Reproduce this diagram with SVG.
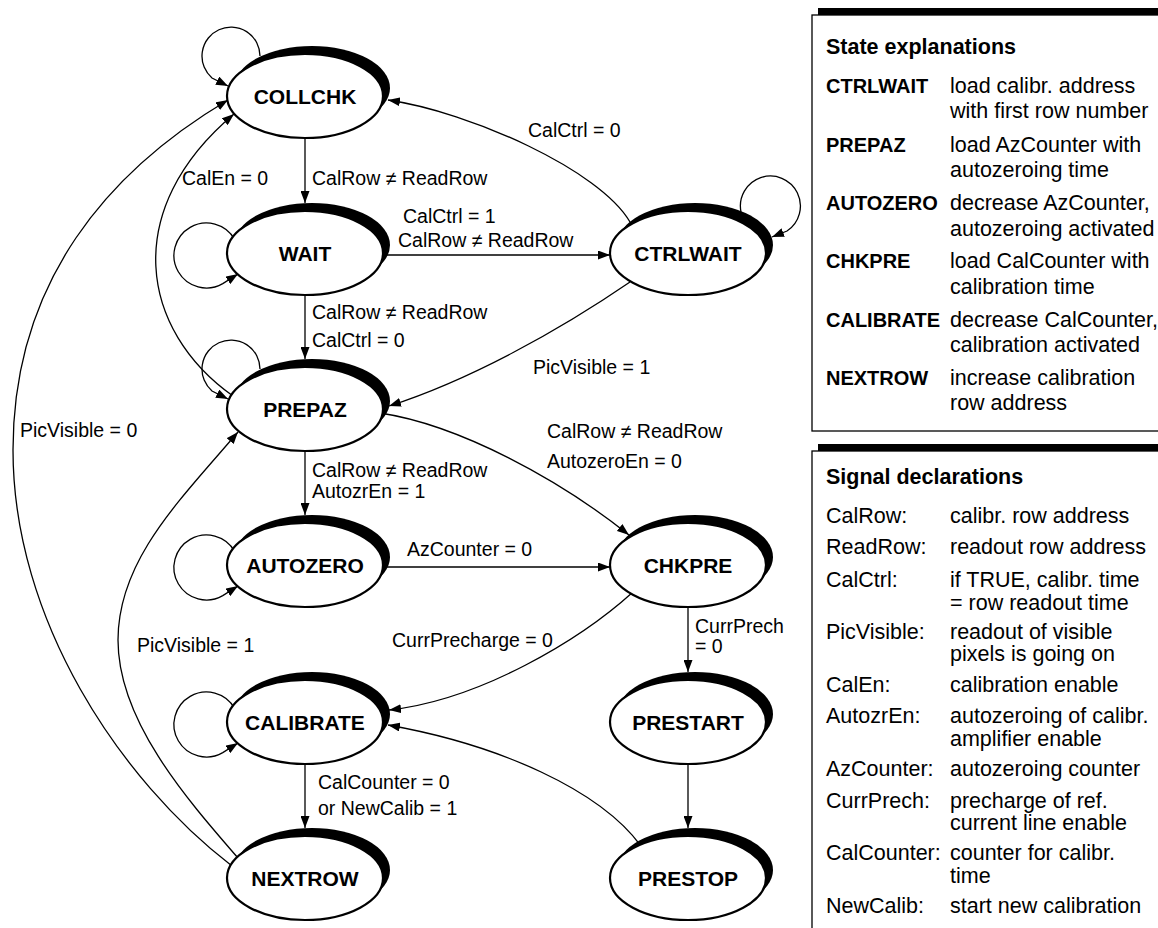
<svg xmlns="http://www.w3.org/2000/svg" width="1158" height="928" viewBox="0 0 1158 928">
  <defs>
    <style>
      .sh { fill: #000; }
      .nd { fill: #fff; stroke: #000; stroke-width: 2.2; }
      .st { font-family: "Liberation Sans", Arial, sans-serif; font-weight: bold; font-size: 21px; text-anchor: middle; fill: #000; }
      .ed { fill: none; stroke: #000; stroke-width: 1.3; marker-end: url(#ah); }
      .lb { font-family: "Liberation Sans", Arial, sans-serif; font-size: 19.5px; fill: #000; }
      .tb { font-family: "Liberation Sans", Arial, sans-serif; font-size: 21.5px; fill: #000; }
      .tk { font-family: "Liberation Sans", Arial, sans-serif; font-size: 20px; font-weight: bold; fill: #000; }
      .tt { font-family: "Liberation Sans", Arial, sans-serif; font-size: 21.5px; font-weight: bold; fill: #000; }
      .box { fill: #fff; stroke: #000; stroke-width: 1.3; }
    </style>
    <marker id="ah" markerUnits="userSpaceOnUse" markerWidth="13" markerHeight="9" refX="12" refY="4.5" orient="auto">
      <path d="M0,0 L12,4.5 L0,9 z" fill="#000"/>
    </marker>
  </defs>

  <rect width="1158" height="928" fill="#fff"/>

  <!-- state explanation panel -->
  <g id="state-explanations">
    <rect x="818" y="8" width="400" height="416" fill="#000"/>
    <rect class="box" x="812" y="15" width="400" height="416"/>
    <text class="tt" x="826" y="54">State explanations</text>
    <text class="tk" x="826" y="93">CTRLWAIT</text>
    <text class="tb" x="950" y="93">load calibr. address</text>
    <text class="tb" x="950" y="118">with first row number</text>
    <text class="tk" x="826" y="152">PREPAZ</text>
    <text class="tb" x="950" y="152">load AzCounter with</text>
    <text class="tb" x="950" y="177">autozeroing time</text>
    <text class="tk" x="826" y="210">AUTOZERO</text>
    <text class="tb" x="950" y="210">decrease AzCounter,</text>
    <text class="tb" x="950" y="236">autozeroing activated</text>
    <text class="tk" x="826" y="268">CHKPRE</text>
    <text class="tb" x="950" y="268">load CalCounter with</text>
    <text class="tb" x="950" y="294">calibration time</text>
    <text class="tk" x="826" y="327">CALIBRATE</text>
    <text class="tb" x="950" y="327">decrease CalCounter,</text>
    <text class="tb" x="950" y="352">calibration activated</text>
    <text class="tk" x="826" y="385">NEXTROW</text>
    <text class="tb" x="950" y="385">increase calibration</text>
    <text class="tb" x="950" y="410">row address</text>
  </g>

  <!-- signal declaration panel -->
  <g id="signal-declarations">
    <rect x="818" y="444" width="400" height="500" fill="#000"/>
    <rect class="box" x="812" y="451" width="400" height="500"/>
    <text class="tt" x="826" y="484">Signal declarations</text>
    <text class="tb" x="826" y="523">CalRow:</text>
    <text class="tb" x="950" y="523">calibr. row address</text>
    <text class="tb" x="826" y="554">ReadRow:</text>
    <text class="tb" x="950" y="554">readout row address</text>
    <text class="tb" x="826" y="587">CalCtrl:</text>
    <text class="tb" x="950" y="587">if TRUE, calibr. time</text>
    <text class="tb" x="950" y="610">= row readout time</text>
    <text class="tb" x="826" y="639">PicVisible:</text>
    <text class="tb" x="950" y="639">readout of visible</text>
    <text class="tb" x="950" y="661">pixels is going on</text>
    <text class="tb" x="826" y="692">CalEn:</text>
    <text class="tb" x="950" y="692">calibration enable</text>
    <text class="tb" x="826" y="723">AutozrEn:</text>
    <text class="tb" x="950" y="723">autozeroing of calibr.</text>
    <text class="tb" x="950" y="746">amplifier enable</text>
    <text class="tb" x="826" y="776">AzCounter:</text>
    <text class="tb" x="950" y="776">autozeroing counter</text>
    <text class="tb" x="826" y="808">CurrPrech:</text>
    <text class="tb" x="950" y="808">precharge of ref.</text>
    <text class="tb" x="950" y="830">current line enable</text>
    <text class="tb" x="826" y="860">CalCounter:</text>
    <text class="tb" x="950" y="860">counter for calibr.</text>
    <text class="tb" x="950" y="883">time</text>
    <text class="tb" x="826" y="913">NewCalib:</text>
    <text class="tb" x="950" y="913">start new calibration</text>
  </g>

  <!-- transitions -->
  <g id="connectors">
    <!-- self loops -->
    <path class="ed" d="M260,56 A29,29 0 1,0 212,78 L228,86"/>
    <path class="ed" d="M234.6,239.3 A32.5,32.5 0 1,0 222.75,283.6 L238,274"/>
    <path class="ed" d="M741,212 A30,30 0 1,1 787,231 L772,237"/>
    <path class="ed" d="M260,369 A29,29 0 1,0 212,391 L228,399"/>
    <path class="ed" d="M234.6,551.3 A32.5,32.5 0 1,0 222.75,595.6 L238,586"/>
    <path class="ed" d="M234.6,708.3 A32.5,32.5 0 1,0 222.75,752.6 L238,743"/>

    <!-- straight transitions -->
    <path class="ed" d="M305,138 V203"/>
    <path class="ed" d="M305,295 V359"/>
    <path class="ed" d="M305,451 V515"/>
    <path class="ed" d="M305,764 V828"/>
    <path class="ed" d="M383,255 H610"/>
    <path class="ed" d="M383,567 H610"/>
    <path class="ed" d="M688,607 V672"/>
    <path class="ed" d="M688,764 V828"/>

    <!-- curved transitions -->
    <path class="ed" d="M630,222 C600,170 470,112 388,100"/>
    <path class="ed" d="M630,282 C560,330 470,380 389,406"/>
    <path class="ed" d="M380,413 C460,425 560,480 629,535"/>
    <path class="ed" d="M233,396 C140,330 120,210 234,114"/>
    <path class="ed" d="M232,866 C120,780 13,620 13,450 C13,280 110,170 228,100"/>
    <path class="ed" d="M238,858 C185,797 118,720 118,640 C118,560 180,500 238,432"/>
    <path class="ed" d="M633,592 C580,640 480,700 389,710"/>
    <path class="ed" d="M641,846 C600,790 500,745 388,725"/>
  </g>

  <!-- transition conditions -->
  <g id="edge-labels">
    <text class="lb" x="312" y="185">CalRow ≠ ReadRow</text>
    <text class="lb" x="182" y="185">CalEn = 0</text>
    <text class="lb" x="528" y="137">CalCtrl = 0</text>
    <text class="lb" x="403" y="223">CalCtrl = 1</text>
    <text class="lb" x="398" y="247">CalRow ≠ ReadRow</text>
    <text class="lb" x="312" y="319">CalRow ≠ ReadRow</text>
    <text class="lb" x="312" y="347">CalCtrl = 0</text>
    <text class="lb" x="533" y="374">PicVisible = 1</text>
    <text class="lb" x="20" y="437">PicVisible = 0</text>
    <text class="lb" x="547" y="438">CalRow ≠ ReadRow</text>
    <text class="lb" x="547" y="468">AutozeroEn = 0</text>
    <text class="lb" x="312" y="477">CalRow ≠ ReadRow</text>
    <text class="lb" x="312" y="498">AutozrEn = 1</text>
    <text class="lb" x="407" y="556">AzCounter = 0</text>
    <text class="lb" x="695" y="633">CurrPrech</text>
    <text class="lb" x="695" y="653">= 0</text>
    <text class="lb" x="392" y="647">CurrPrecharge = 0</text>
    <text class="lb" x="137" y="652">PicVisible = 1</text>
    <text class="lb" x="318" y="789">CalCounter = 0</text>
    <text class="lb" x="318" y="815">or NewCalib = 1</text>
  </g>

  <!-- states -->
  <g id="COLLCHK">
    <ellipse class="sh" cx="312" cy="88" rx="78" ry="42"/>
    <ellipse class="nd" cx="305" cy="96" rx="78" ry="42"/>
    <text class="st" x="305" y="103.5">COLLCHK</text>
  </g>
  <g id="WAIT">
    <ellipse class="sh" cx="312" cy="245" rx="78" ry="42"/>
    <ellipse class="nd" cx="305" cy="253" rx="78" ry="42"/>
    <text class="st" x="305" y="260.5">WAIT</text>
  </g>
  <g id="PREPAZ">
    <ellipse class="sh" cx="312" cy="401" rx="78" ry="42"/>
    <ellipse class="nd" cx="305" cy="409" rx="78" ry="42"/>
    <text class="st" x="305" y="416.5">PREPAZ</text>
  </g>
  <g id="AUTOZERO">
    <ellipse class="sh" cx="312" cy="557" rx="78" ry="42"/>
    <ellipse class="nd" cx="305" cy="565" rx="78" ry="42"/>
    <text class="st" x="305" y="572.5">AUTOZERO</text>
  </g>
  <g id="CALIBRATE">
    <ellipse class="sh" cx="312" cy="714" rx="78" ry="42"/>
    <ellipse class="nd" cx="305" cy="722" rx="78" ry="42"/>
    <text class="st" x="305" y="729.5">CALIBRATE</text>
  </g>
  <g id="NEXTROW">
    <ellipse class="sh" cx="312" cy="870" rx="78" ry="42"/>
    <ellipse class="nd" cx="305" cy="878" rx="78" ry="42"/>
    <text class="st" x="305" y="885.5">NEXTROW</text>
  </g>
  <g id="CTRLWAIT">
    <ellipse class="sh" cx="695" cy="245" rx="78" ry="42"/>
    <ellipse class="nd" cx="688" cy="253" rx="78" ry="42"/>
    <text class="st" x="688" y="260.5">CTRLWAIT</text>
  </g>
  <g id="CHKPRE">
    <ellipse class="sh" cx="695" cy="557" rx="78" ry="42"/>
    <ellipse class="nd" cx="688" cy="565" rx="78" ry="42"/>
    <text class="st" x="688" y="572.5">CHKPRE</text>
  </g>
  <g id="PRESTART">
    <ellipse class="sh" cx="695" cy="714" rx="78" ry="42"/>
    <ellipse class="nd" cx="688" cy="722" rx="78" ry="42"/>
    <text class="st" x="688" y="729.5">PRESTART</text>
  </g>
  <g id="PRESTOP">
    <ellipse class="sh" cx="695" cy="870" rx="78" ry="42"/>
    <ellipse class="nd" cx="688" cy="878" rx="78" ry="42"/>
    <text class="st" x="688" y="885.5">PRESTOP</text>
  </g>
</svg>
